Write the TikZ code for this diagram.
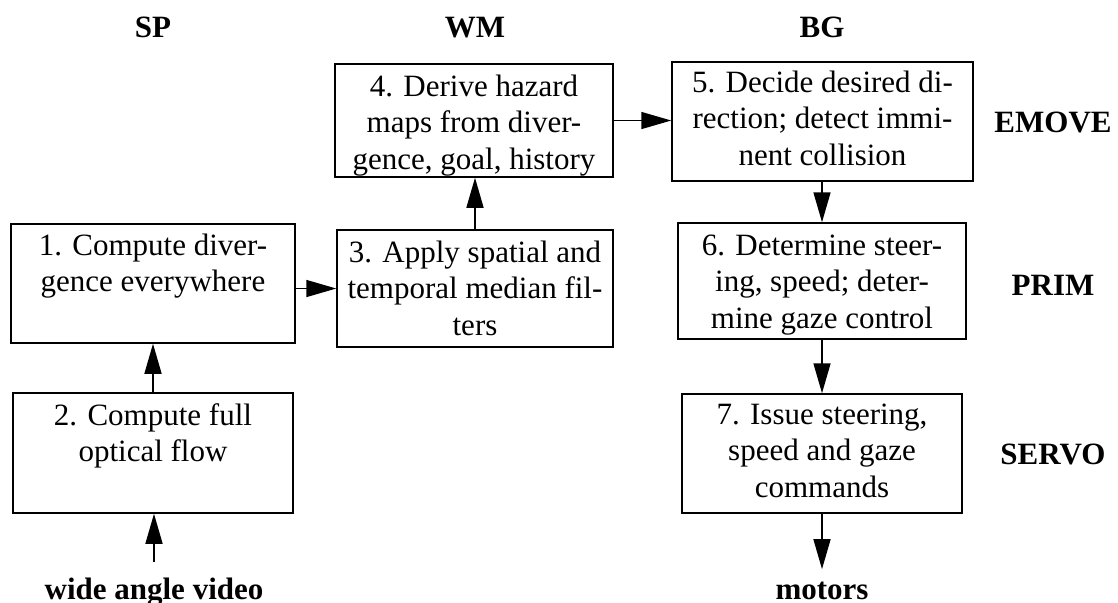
\documentclass[tikz,border=0pt]{standalone}
\usepackage{fontspec}
\setmainfont{Liberation Serif}
\usetikzlibrary{arrows.meta}
\newcommand{\boxtxt}[2]{\parbox[t]{#1}{\centering #2}}
\begin{document}
\begin{tikzpicture}[x=0.5pt,y=-0.5pt,
  font=\fontsize{15.5pt}{18.35pt}\selectfont,
  box/.style={draw, line width=0.75pt, inner sep=0pt},
  txt/.style={anchor=base, inner sep=0pt},
  lbl/.style={anchor=base, inner sep=0pt, font=\fontsize{15.5pt}{18.35pt}\selectfont\bfseries},
  arr/.style={-{Triangle[length=15pt,width=8.5pt]}, line width=0.75pt}]
\useasboundingbox (0,0) rectangle (1118,602);
% boxes
\node[box, minimum width=142pt, minimum height=59.5pt] (b1) at (153,283.5) {};
\node[box, minimum width=140pt, minimum height=60pt]   (b2) at (153,453) {};
\node[box, minimum width=138pt, minimum height=58.5pt] (b3) at (475,288.5) {};
\node[box, minimum width=139pt, minimum height=56.5pt] (b4) at (474,120.5) {};
\node[box, minimum width=150.5pt, minimum height=59.5pt] (b5) at (822.5,121.5) {};
\node[box, minimum width=144pt, minimum height=58pt]   (b6) at (822,281) {};
\node[box, minimum width=140pt, minimum height=59.5pt] (b7) at (822,453.5) {};
% box texts
\node[txt] (t1) at (153,255) {\boxtxt{140pt}{1. Compute diver-\\gence everywhere}};
\node[txt] (t2) at (153,425) {\boxtxt{138pt}{2. Compute full\\optical flow}};
\node[txt] (t3) at (475,262) {\boxtxt{136pt}{3. Apply spatial and\\temporal median fil-\\ters}};
\node[txt] (t4) at (474,96) {\boxtxt{137pt}{4. Derive hazard\\maps from diver-\\gence, goal, history}};
\node[txt] (t5) at (822.5,92) {\boxtxt{148pt}{5. Decide desired di-\\rection; detect immi-\\nent collision}};
\node[txt] (t6) at (822,255) {\boxtxt{142pt}{6. Determine steer-\\ing, speed; deter-\\mine gaze control}};
\node[txt] (t7) at (822,424) {\boxtxt{138pt}{7. Issue steering,\\speed and gaze\\commands}};
% labels
\node[lbl] (sp) at (153,37) {SP};
\node[lbl] (wm) at (475,37) {WM};
\node[lbl] (bg) at (822,37) {BG};
\node[lbl] (emove) at (1053,132) {EMOVE};
\node[lbl] (prim) at (1053,295) {PRIM};
\node[lbl] (servo) at (1053,464) {SERVO};
\node[lbl] (vid) at (154,599) {wide angle video};
\node[lbl] (mot) at (822,599) {motors};
% arrows
\draw[arr, shorten <=7.5pt] (vid.north) -- (vid.north |- b2.south);
\draw[arr] (b2.north) -- (b1.south);
\draw[arr] (b1.east |- b3.west) -- (b3.west);
\draw[arr] (b3.north) -- (b3.north |- b4.south);
\draw[arr] (b4.east) -- (b4.east -| b5.west);
\draw[arr] (b5.south -| b6.north) -- (b6.north);
\draw[arr] (b6.south) -- (b7.north);
\draw[arr, shorten >=6pt] (b7.south) -- (mot.north);
\end{tikzpicture}
\end{document}
